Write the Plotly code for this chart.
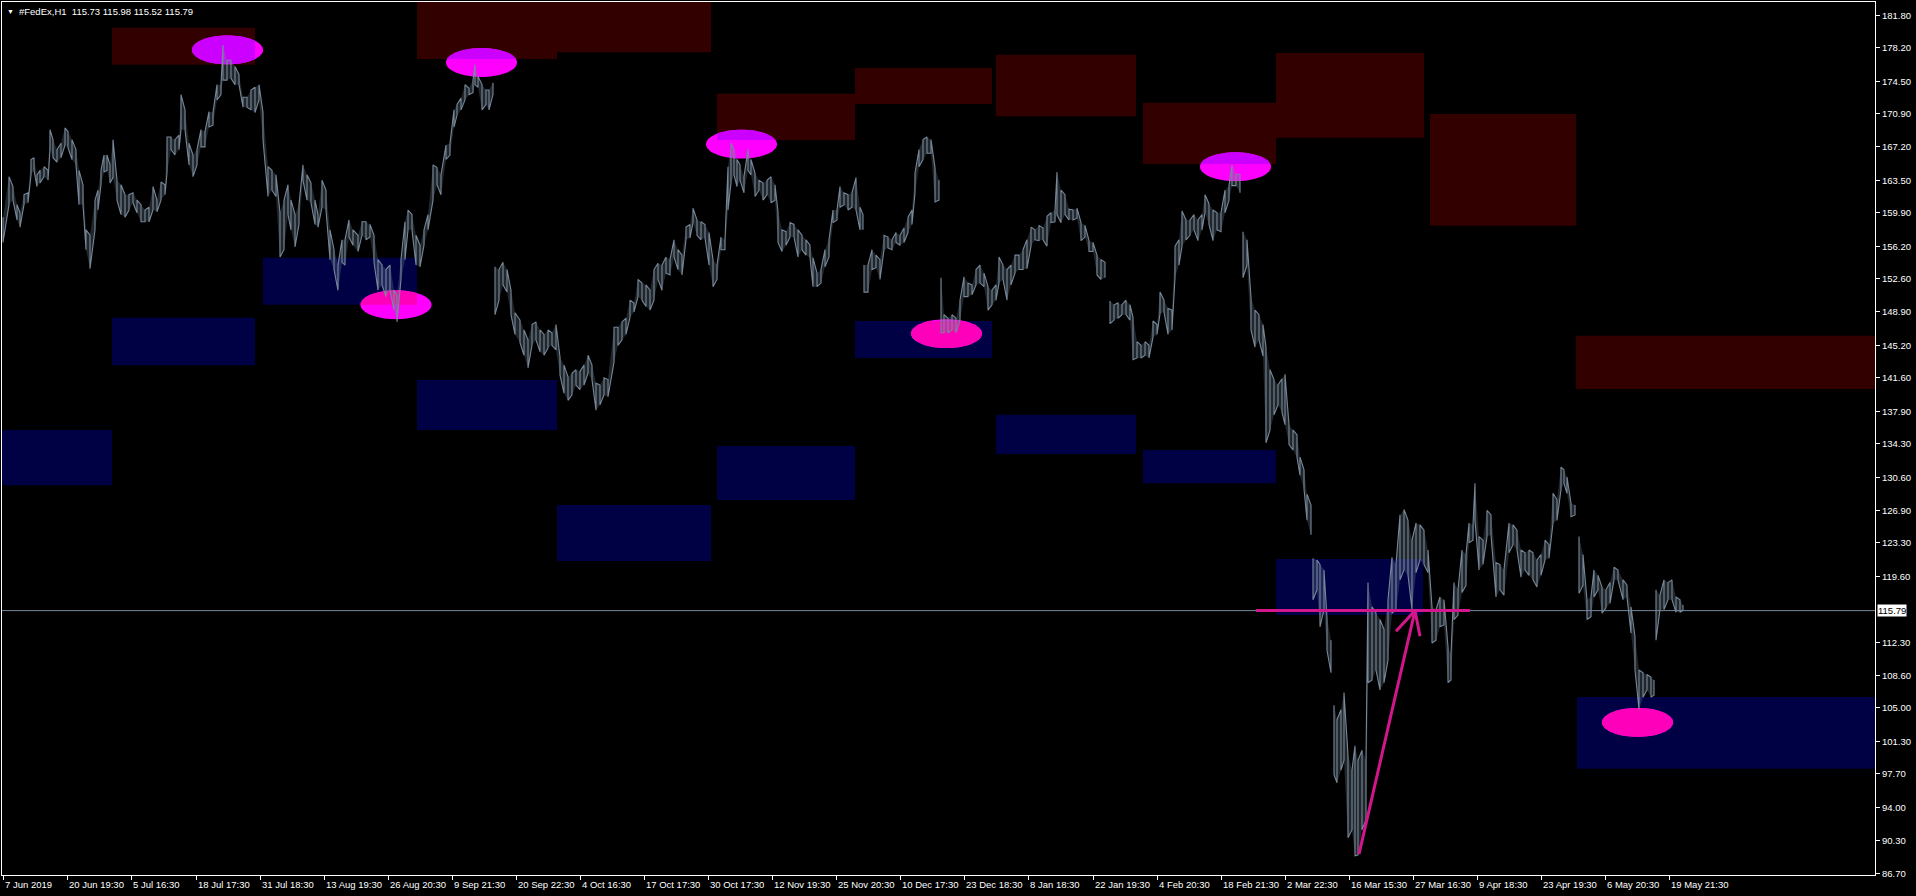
import math
import plotly.graph_objects as go

# ---------------- price samples (bar index, high, low) ----------------
bar_x = [3, 9, 13, 17, 20, 24, 28, 31, 34, 37, 40, 44, 48, 50, 53, 57, 61, 65, 68, 72, 76, 79, 83, 86, 90,
         95, 98, 101, 104, 107, 110, 113, 117, 121, 125, 129, 133, 137, 141, 145, 149, 153, 157, 161, 165,
         167, 171, 175, 179, 181, 185, 189, 193, 197, 201, 205, 209, 213, 217, 221, 223, 227, 231, 235, 239,
         243, 247, 251, 255, 259, 263, 268, 272, 276, 280, 284, 288, 291, 295, 299, 303, 307, 311, 315, 318,
         322, 326, 330, 334, 338, 342,
         345, 349, 353, 358, 362, 366, 370, 374, 378, 382, 386, 390, 394, 397, 401, 405, 408, 412, 416, 420,
         424, 428, 433, 437, 441, 446, 450, 454, 457, 461, 465, 469, 473, 475, 478, 482, 486, 489, 493,
         495, 499, 503, 507, 511, 515, 520, 524, 528, 532, 536, 540, 544, 548, 552, 556, 560, 564, 568, 572,
         576, 580, 584, 588, 592, 596, 600, 604, 608, 614, 618, 622, 626, 630, 634, 638, 642, 646, 650, 654,
         658, 662, 666, 670, 674, 678, 682,
         686, 690, 693, 697, 701, 705, 709, 713, 717, 721, 725, 728, 731, 734, 737, 740, 744, 748, 751, 755,
         759, 763, 767, 771, 775, 778, 782, 786, 790, 794, 798, 802, 806, 810, 813, 817, 821, 825, 829, 833,
         837, 840, 844, 848, 852, 856, 860, 863,
         864, 868, 872, 876, 880, 884, 888, 892, 896, 900, 904, 908, 912, 915, 919, 923, 927, 931, 935, 939,
         941, 944, 948, 952, 956, 960, 964, 968, 972, 976, 980, 984, 988, 992, 996, 999, 1003, 1007, 1011,
         1015, 1019, 1023,
         1027, 1031, 1035, 1039, 1043, 1047, 1051, 1055, 1057, 1061, 1065, 1069, 1073, 1077, 1081, 1085,
         1089, 1093, 1097, 1101, 1105,
         1110, 1114, 1118, 1122, 1126, 1130, 1133, 1137, 1141, 1145, 1149, 1153, 1157, 1160, 1164, 1168,
         1172, 1175, 1179, 1182, 1186, 1190, 1194, 1198, 1202, 1205, 1209, 1213, 1217, 1221, 1225, 1229,
         1232, 1236, 1240,
         1243, 1247, 1251, 1255, 1259, 1263, 1266, 1270, 1274, 1278, 1282, 1285, 1289, 1293, 1297, 1300,
         1304, 1307, 1311,
         1313, 1317, 1320, 1324, 1327, 1331,
         1334, 1337, 1341, 1344, 1348, 1352, 1355, 1358, 1362, 1366, 1368, 1372, 1376, 1380, 1384, 1388,
         1392, 1396, 1400, 1404, 1408, 1412, 1416, 1420, 1424, 1428, 1432, 1436, 1440, 1444, 1448, 1451,
         1454, 1458, 1462, 1466, 1469, 1473, 1475, 1479, 1483, 1487, 1491, 1496, 1500, 1504, 1509, 1513,
         1517, 1521, 1525, 1529, 1533, 1537, 1541, 1545, 1549, 1553, 1557, 1561, 1564, 1567, 1571, 1575,
         1579, 1583, 1587, 1591, 1594, 1598, 1602, 1606, 1610, 1614, 1618, 1623, 1627, 1631, 1635, 1639,
         1643, 1647, 1651, 1654,
         1656, 1660, 1664, 1668, 1672, 1676, 1680, 1683]

bar_high = [159.4, 163.9, 162.8, 160.8, 159.9, 161.9, 162.1, 165.8, 166.0, 164.1, 164.6, 165.0, 164.6, 169.1,
            168.0, 166.9, 167.6, 169.3, 168.9, 168.0, 166.9, 164.6, 163.0, 158.0, 157.4,
            161.3, 162.4, 164.6, 166.3, 166.3, 165.2, 168.0, 163.5, 163.0, 161.9, 161.9, 162.1, 161.3, 160.8,
            160.2, 160.5, 162.8, 161.3, 163.3, 163.0,
            168.3, 168.3, 168.0, 168.5, 173.0, 171.3, 167.6, 166.3, 166.9, 169.1, 168.9, 171.1, 171.0, 174.1,
            174.1, 178.5, 176.8, 176.8, 176.1, 175.2,
            172.7, 172.7, 173.5, 173.8, 174.1, 171.0, 165.0, 164.6, 164.1, 159.9, 161.3, 163.0, 161.3, 159.7,
            160.8, 165.2, 164.1, 163.2, 161.3, 159.7,
            163.5, 162.4, 158.0, 155.8, 154.1, 156.9,
            156.9, 159.1, 158.0, 157.4, 158.9, 158.9, 158.6, 157.4, 154.7, 154.1, 153.6, 154.1, 151.3, 150.8,
            154.7, 158.9, 160.2, 159.7, 157.4, 156.3,
            158.0, 159.7, 165.2, 164.9, 164.1, 167.4, 167.6, 171.3, 171.9, 172.6, 174.1, 173.7, 174.6, 176.3,
            175.0, 174.1, 173.5, 173.5, 174.3,
            153.9, 153.6, 154.4, 153.6, 151.3, 148.8, 148.0, 146.9, 145.8, 147.5, 147.8, 146.9, 146.4, 146.9,
            146.6, 147.5, 143.9, 143.0, 141.7, 142.1,
            142.5, 142.3, 143.0, 144.1, 143.0, 141.0, 140.8, 141.6, 141.4, 147.2, 147.2, 147.8, 148.2, 150.2,
            149.9, 152.5, 152.1, 151.9, 151.3, 153.6,
            154.3, 154.1, 155.0, 154.7, 156.9, 155.8, 155.2,
            158.3, 158.6, 160.4, 159.1, 158.9, 158.6, 157.7, 154.7, 154.1, 157.2, 156.9, 165.0, 167.6, 166.9,
            165.8, 165.2, 163.9, 166.9, 165.8, 164.3,
            163.5, 163.2, 163.5, 163.9, 163.0, 160.0, 158.0, 157.8, 158.8, 158.6, 158.0, 157.4, 156.9, 156.3,
            154.9, 153.2, 153.6, 155.8, 156.9, 160.2,
            160.2, 162.8, 162.1, 161.9, 162.1, 163.8, 160.5, 159.7,
            154.1, 154.1, 155.8, 155.2, 154.7, 157.4, 157.2, 156.9, 157.7, 157.4, 158.2, 159.4, 160.2, 164.3,
            166.9, 168.0, 168.3, 168.0, 164.9, 163.5,
            152.7, 148.6, 148.2, 148.6, 148.2, 150.2, 152.8, 152.1, 151.9, 153.6, 154.1, 153.2, 151.7, 151.3,
            151.9, 155.0, 154.1, 153.6, 154.1,
            155.2, 155.2, 155.8,
            156.9, 158.3, 158.0, 158.5, 158.2, 159.5, 159.9, 160.2, 164.4, 162.4, 161.9, 160.3, 160.2, 160.4,
            158.8, 158.5, 156.8, 156.6, 155.2, 154.7, 154.4,
            150.1, 149.7, 149.9, 149.7, 150.2, 149.7, 148.3, 145.6, 145.2, 145.6, 145.2, 147.9, 147.5, 151.1,
            150.2, 149.3, 149.1, 156.2, 156.9, 160.1, 159.1, 159.1, 159.7, 159.1, 159.7, 161.9, 160.9, 160.2,
            159.9, 159.9, 162.4, 162.9, 165.2, 164.2, 164.1,
            157.8, 156.9, 150.5, 149.1, 148.6, 147.5, 145.0, 142.5, 141.4, 140.8, 141.5, 142.0, 136.4, 135.8,
            135.3, 132.8, 131.4, 128.7, 127.5,
            121.6, 121.4, 120.9, 120.3, 115.0, 112.5,
            105.3, 103.7, 104.8, 106.7, 99.8, 98.1, 100.8, 99.2, 100.3, 99.2, 118.9, 116.2, 115.5, 114.8,
            113.7, 117.0, 121.7, 120.9, 126.4, 127.0, 125.8, 123.6, 125.5, 125.3, 124.7, 122.5, 116.2, 115.9,
            117.3, 117.0, 111.8, 110.9, 118.9, 118.1, 122.5, 122.0, 125.5, 125.3, 129.9, 124.0, 123.6, 126.9,
            126.4, 121.1, 120.9, 120.3, 125.5, 125.3, 124.7, 122.5, 122.2, 122.5, 122.2, 121.4, 122.0, 123.6,
            123.1, 128.8, 128.1, 131.7, 131.4, 130.6, 127.7, 127.5,
            124.0, 122.0, 117.0, 117.3, 120.3, 119.7, 118.4, 118.1, 118.9, 120.6, 120.3, 119.2, 118.6, 116.2,
            112.9, 109.2, 108.9, 108.7, 108.4, 108.1,
            118.1, 117.5, 119.2, 118.9, 119.2, 117.3, 117.0, 116.4]

bar_low = [156.6, 160.8, 161.3, 159.1, 158.3, 160.8, 161.0, 164.1, 164.6, 162.8, 163.2, 163.9, 163.5, 166.9,
           166.0, 165.5, 166.0, 167.4, 167.1, 165.8, 165.2, 160.8, 160.8, 155.8, 153.7,
           158.0, 160.2, 163.0, 164.4, 164.6, 163.2, 163.8, 161.3, 159.7, 159.4, 160.2, 161.0, 159.9, 158.9,
           158.9, 158.9, 160.2, 160.0, 161.3, 161.9,
           164.3, 166.9, 166.3, 166.9, 169.1, 169.1, 165.2, 163.9, 165.2, 167.2, 167.2, 169.4, 169.6, 172.4,
           173.0, 174.6, 174.6, 174.8, 174.1, 174.1,
           171.6, 171.6, 171.3, 171.0, 172.4, 168.0, 161.7, 162.4, 161.7, 155.0, 155.8, 159.7, 158.0, 156.1,
           158.6, 163.5, 161.3, 161.0, 158.6, 158.3,
           160.5, 160.2, 154.7, 153.6, 151.3, 154.4,
           154.1, 157.2, 156.3, 155.6, 157.4, 156.9, 157.2, 154.4, 151.3, 151.9, 150.6, 151.3, 149.1, 147.8,
           152.5, 154.7, 158.0, 158.0, 154.1, 153.9,
           156.3, 158.0, 161.3, 163.0, 161.9, 165.8, 166.3, 169.4, 170.7, 171.3, 172.4, 173.0, 173.2, 174.1,
           173.8, 171.3, 171.9, 171.3, 173.0,
           148.6, 150.2, 151.9, 151.1, 148.6, 146.4, 145.5, 144.1, 142.7, 145.2, 145.8, 144.5, 144.1, 144.9,
           145.2, 144.7, 141.9, 139.9, 139.1, 139.7,
           140.8, 140.3, 140.8, 142.1, 141.4, 138.0, 138.6, 139.7, 139.5, 143.3, 145.2, 145.8, 146.4, 148.3,
           148.9, 150.6, 150.2, 149.5, 149.1, 150.2,
           152.5, 151.3, 153.2, 153.0, 155.0, 153.6, 153.0,
           156.9, 157.1, 158.8, 157.4, 156.9, 157.1, 154.1, 151.7, 152.5, 155.8, 155.8, 160.2, 163.2, 164.1,
           162.8, 163.5, 162.1, 164.6, 164.1, 161.7,
           162.4, 161.3, 161.9, 161.0, 161.3, 156.6, 155.6, 156.3, 157.2, 157.2, 155.0, 155.8, 155.2, 154.9,
           151.7, 151.7, 152.1, 153.9, 155.0, 158.8,
           159.1, 160.5, 160.8, 160.2, 160.5, 160.2, 158.0, 158.0,
           151.1, 151.1, 153.6, 153.8, 152.5, 155.8, 156.0, 155.8, 156.6, 156.3, 156.6, 157.7, 158.6, 162.1,
           165.0, 165.8, 166.5, 166.5, 161.1, 161.3,
           146.6, 146.6, 146.6, 146.9, 146.6, 148.0, 150.6, 150.6, 150.8, 151.9, 152.1, 151.7, 149.1, 149.7,
           150.2, 152.1, 152.5, 150.2, 151.9,
           153.2, 153.6, 153.6,
           153.7, 156.2, 156.9, 156.8, 156.9, 156.2, 158.8, 158.9, 159.7, 158.8, 159.7, 159.1, 159.1, 159.3,
           156.8, 157.2, 155.6, 155.6, 153.0, 152.5, 152.7,
           147.6, 148.0, 148.2, 148.6, 148.6, 148.0, 143.6, 143.8, 143.8, 144.1, 143.8, 146.1, 146.4, 148.7,
           148.9, 146.4, 146.9, 152.7, 154.1, 156.2, 156.9, 157.4, 158.0, 156.8, 158.0, 159.9, 158.6, 156.8,
           158.0, 157.8, 159.9, 161.3, 162.9, 162.9, 162.1,
           152.7, 154.1, 146.9, 145.0, 145.8, 144.0, 134.4, 135.8, 137.5, 138.6, 137.8, 136.4, 134.2, 133.6,
           132.8, 130.8, 129.3, 125.8, 124.2,
           117.0, 118.1, 114.0, 115.9, 111.4, 108.9,
           97.6, 96.7, 98.1, 99.2, 90.6, 91.5, 88.6, 88.7, 91.5, 92.6, 107.8, 108.1, 109.2, 107.0,
           107.8, 110.3, 115.5, 115.9, 119.2, 120.3, 119.7, 115.9, 120.0, 121.4, 120.9, 120.0, 112.2, 112.5,
           114.0, 114.2, 107.8, 108.1, 114.8, 115.3, 117.8, 118.6, 123.3, 123.6, 125.8, 120.3, 120.9, 124.0,
           124.2, 117.3, 118.1, 117.5, 122.2, 123.1, 122.5, 119.5, 120.3, 119.7, 119.2, 118.4, 119.7, 121.4,
           121.6, 125.5, 125.8, 129.2, 129.9, 128.8, 126.2, 126.4,
           117.7, 118.6, 114.8, 115.1, 117.3, 118.1, 115.5, 116.1, 116.6, 119.2, 119.2, 117.0, 117.3, 113.3,
           109.2, 104.8, 106.2, 107.0, 106.2, 106.4,
           112.5, 115.9, 115.9, 117.0, 117.0, 115.6, 115.6, 115.8]

session_breaks = [493, 863, 939, 1105, 1240, 1311, 1331, 1575, 1654]

last_price = 115.79
title_text = "#FedEx,H1  115.73 115.98 115.52 115.79"

# ---------------- zones ----------------
supply_start = [112, 417, 557, 717, 855, 996, 1143, 1276, 1430, 1576]
supply_end = [255, 557, 711, 855, 992, 1136, 1276, 1424, 1576, 1880]
supply_top = [180.4, 183.6, 183.6, 173.1, 175.95, 177.4, 172.1, 177.6, 170.85, 146.25]
supply_bottom = [176.3, 176.95, 177.7, 167.95, 171.95, 170.6, 165.3, 168.2, 158.45, 140.35]

demand_start = [0, 112, 263, 417, 557, 717, 855, 996, 1143, 1276, 1577]
demand_end = [112, 255, 417, 557, 711, 855, 992, 1136, 1276, 1423, 1880]
demand_top = [135.8, 148.25, 154.9, 141.35, 127.5, 134.05, 147.9, 137.5, 133.6, 121.5, 106.2]
demand_bottom = [129.7, 143.0, 149.7, 135.8, 121.3, 128.05, 143.8, 133.15, 129.9, 115.3, 98.25]

# swing markers (ellipses): bar, price
swing_bar = [227.5, 481.5, 396, 741.5, 946.5, 1235.5, 1637.5]
swing_price = [177.95, 176.55, 149.7, 167.5, 146.5, 165.0, 103.4]

# manual trend drawing
level_bars = [1256, 1470]
level_price = [115.79, 115.79]
arrow_bars = [1359, 1415]
arrow_price = [88.8, 115.79]
wing_bars = [1396, 1415, 1420]
wing_price = [113.5, 115.79, 112.95]

# axis labels
x_tick_bars = [3, 67, 131, 196, 260, 324, 388, 452, 516, 580, 644, 708, 772, 836, 900, 964, 1028,
               1093, 1157, 1221, 1285, 1349, 1413, 1477, 1541, 1605, 1669]
x_tick_text = ["7 Jun 2019", "20 Jun 19:30", "5 Jul 16:30", "18 Jul 17:30", "31 Jul 18:30",
               "13 Aug 19:30", "26 Aug 20:30", "9 Sep 21:30", "20 Sep 22:30", "4 Oct 16:30",
               "17 Oct 17:30", "30 Oct 17:30", "12 Nov 19:30", "25 Nov 20:30", "10 Dec 17:30",
               "23 Dec 18:30", "8 Jan 18:30", "22 Jan 19:30", "4 Feb 20:30", "18 Feb 21:30",
               "2 Mar 22:30", "16 Mar 15:30", "27 Mar 16:30", "9 Apr 18:30", "23 Apr 19:30",
               "6 May 20:30", "19 May 21:30"]
y_tick_values = [181.80, 178.20, 174.50, 170.90, 167.20, 163.50, 159.90, 156.20, 152.60, 148.90,
                 145.20, 141.60, 137.90, 134.30, 130.60, 126.90, 123.30, 119.60, 112.30, 108.60,
                 105.00, 101.30, 97.70, 94.00, 90.30, 86.70]

# ---------------- styles ----------------
BG = "#000000"
FG = "#FFFFFF"
BAR_COLOR = "#778899"
BAND_FILL = "rgba(119,136,153,0.28)"
SUPPLY_COLOR = "#330000"
DEMAND_COLOR = "#000045"
SWING_COLOR = "#FF00FF"
TREND_COLOR = "#D4168C"
FONT = "Liberation Sans, Arial, sans-serif"
FSIZE = 9.5
ELL_W = 71.0   # bars
ELL_H = 3.2    # price units


def xor_color(a, b):
    a = a.lstrip("#"); b = b.lstrip("#")
    v = [int(a[i:i + 2], 16) ^ int(b[i:i + 2], 16) for i in (0, 2, 4)]
    return "#%02X%02X%02X" % tuple(v)


def ellipse_poly(cx, cy, n=72):
    return [(cx + ELL_W / 2 * math.cos(2 * math.pi * k / n),
             cy + ELL_H / 2 * math.sin(2 * math.pi * k / n)) for k in range(n)]


def clip_poly(poly, x0, x1, y0, y1):
    def clip(pts, inside, inter):
        out = []
        if not pts:
            return out
        prev = pts[-1]
        for cur in pts:
            if inside(cur):
                if not inside(prev):
                    out.append(inter(prev, cur))
                out.append(cur)
            elif inside(prev):
                out.append(inter(prev, cur))
            prev = cur
        return out

    def ix(xv):
        return lambda p, q: (xv, p[1] + (q[1] - p[1]) * (xv - p[0]) / (q[0] - p[0]))

    def iy(yv):
        return lambda p, q: (p[0] + (q[0] - p[0]) * (yv - p[1]) / (q[1] - p[1]), yv)

    pts = clip(poly, lambda p: p[0] >= x0, ix(x0))
    pts = clip(pts, lambda p: p[0] <= x1, ix(x1))
    pts = clip(pts, lambda p: p[1] >= y0, iy(y0))
    pts = clip(pts, lambda p: p[1] <= y1, iy(y1))
    return pts


def path_of(pts):
    return "M " + " L ".join("%.3f,%.3f" % p for p in pts) + " Z"


shapes = []
zones = []
for x0, x1, t, b in zip(supply_start, supply_end, supply_top, supply_bottom):
    zones.append((x0, x1, b, t, SUPPLY_COLOR))
for x0, x1, t, b in zip(demand_start, demand_end, demand_top, demand_bottom):
    zones.append((x0, x1, b, t, DEMAND_COLOR))
for x0, x1, b, t, c in zones:
    shapes.append(dict(type="rect", xref="x", yref="y", x0=x0, x1=x1, y0=b, y1=t,
                       fillcolor=c, line=dict(width=0), layer="below"))

for cx, cy in zip(swing_bar, swing_price):
    poly = ellipse_poly(cx, cy)
    shapes.append(dict(type="path", xref="x", yref="y", path=path_of(poly),
                       fillcolor=SWING_COLOR, line=dict(width=0), layer="below"))
    for x0, x1, b, t, c in zones:
        part = clip_poly(poly, x0, x1, b, t)
        if len(part) >= 3:
            shapes.append(dict(type="path", xref="x", yref="y", path=path_of(part),
                               fillcolor=xor_color(SWING_COLOR, c), line=dict(width=0), layer="below"))

# current price line
shapes.append(dict(type="line", xref="paper", yref="y", x0=0, x1=1, y0=last_price, y1=last_price,
                   line=dict(color=BAR_COLOR, width=1), layer="below"))

# ---------------- price path ----------------
segments = []
cur = []
for x, h, l in zip(bar_x, bar_high, bar_low):
    cur.append((x, h, l))
    if x in session_breaks:
        segments.append(cur); cur = []
if cur:
    segments.append(cur)

band_x, band_y = [], []
zig_x, zig_y = [], []
for seg in segments:
    band_x += [s[0] for s in seg] + [s[0] for s in reversed(seg)] + [None]
    band_y += [s[1] for s in seg] + [s[2] for s in reversed(seg)] + [None]
    for i, (x, h, l) in enumerate(seg):
        if i % 2 == 0:
            zig_x += [x, x]; zig_y += [h, l]
        else:
            zig_x += [x, x]; zig_y += [l, h]
    zig_x.append(None); zig_y.append(None)

fig = go.Figure()
fig.add_trace(go.Scatter(x=band_x, y=band_y, mode="none", fill="toself", fillcolor=BAND_FILL,
                         hoverinfo="skip", showlegend=False))
fig.add_trace(go.Scatter(x=zig_x, y=zig_y, mode="lines", line=dict(color=BAR_COLOR, width=1.1),
                         hoverinfo="skip", showlegend=False))
fig.add_trace(go.Scatter(x=level_bars, y=level_price, mode="lines",
                         line=dict(color=TREND_COLOR, width=3), hoverinfo="skip", showlegend=False))
fig.add_trace(go.Scatter(x=arrow_bars, y=arrow_price, mode="lines",
                         line=dict(color=TREND_COLOR, width=3), hoverinfo="skip", showlegend=False))
fig.add_trace(go.Scatter(x=wing_bars, y=wing_price, mode="lines",
                         line=dict(color=TREND_COLOR, width=3), hoverinfo="skip", showlegend=False))

annotations = [
    dict(xref="paper", yref="paper", x=0, y=1, xanchor="left", yanchor="top", xshift=3, yshift=-4,
         text="▼", showarrow=False, font=dict(color=FG, size=7, family=FONT)),
    dict(xref="paper", yref="paper", x=0, y=1, xanchor="left", yanchor="top", xshift=15, yshift=-2,
         text=title_text, showarrow=False, font=dict(color=FG, size=FSIZE, family=FONT)),
]
for v in y_tick_values:
    annotations.append(dict(xref="paper", yref="y", x=1, y=v, xanchor="left", yanchor="middle",
                            xshift=5, text="%.2f" % v, showarrow=False,
                            font=dict(color=FG, size=FSIZE, family=FONT)))
for xv, t in zip(x_tick_bars, x_tick_text):
    annotations.append(dict(xref="x", yref="paper", x=xv, y=0, xanchor="left", yanchor="top",
                            xshift=0, yshift=-2, text=t, showarrow=False,
                            font=dict(color=FG, size=FSIZE, family=FONT)))
annotations.append(dict(xref="paper", yref="y", x=1, y=last_price, xanchor="left", yanchor="middle",
                        xshift=2, text="%.2f" % last_price, showarrow=False, bgcolor="#FFFFFF",
                        borderpad=0, font=dict(color="#000000", size=FSIZE, family=FONT)))

fig.update_layout(
    width=1916, height=896, autosize=False,
    margin=dict(l=2, r=41, t=2, b=21),
    paper_bgcolor=BG, plot_bgcolor=BG,
    shapes=shapes, annotations=annotations,
    showlegend=False, hovermode=False,
    font=dict(family=FONT, size=FSIZE, color=FG),
    xaxis=dict(range=[2, 1875], showgrid=False, zeroline=False, showline=True, linecolor=FG,
               linewidth=1, mirror=True, ticks="outside", ticklen=4, tickcolor=FG,
               tickvals=x_tick_bars, showticklabels=False, fixedrange=True),
    yaxis=dict(range=[86.48, 183.26], side="right", showgrid=False, zeroline=False, showline=True,
               linecolor=FG, linewidth=1, mirror=True, ticks="outside", ticklen=4, tickcolor=FG,
               tickvals=y_tick_values, showticklabels=False, fixedrange=True),
)

fig.write_html("out.html", config={"displayModeBar": False},
               post_script="document.body.style.margin='0px';document.body.style.background='#000';")
